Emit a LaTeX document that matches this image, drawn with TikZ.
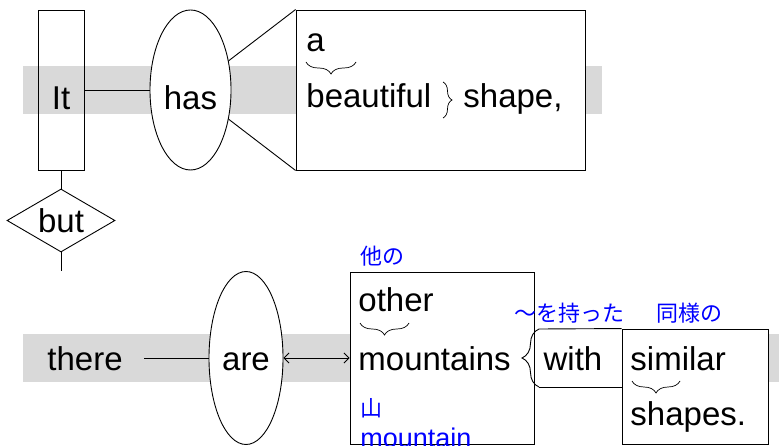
\documentclass[tikz,border=0pt]{standalone}
\usepackage{xcolor}
\usepackage{fontspec}
\setmainfont{Liberation Sans}
\newfontfamily\jpfont{Noto Sans CJK JP}
\usetikzlibrary{shapes.geometric,decorations.pathreplacing,arrows.meta}
\definecolor{bandgray}{RGB}{217,217,217}

\begin{document}
\begin{tikzpicture}[x=1pt,y=-1pt,line width=0.9pt,
    word/.style={font=\fontsize{33}{38}\selectfont,inner sep=0pt},
    wordl/.style={word,anchor=base west},
    rowone/.style={word,text height=40pt,text depth=0pt},
    rowtwo/.style={word,text height=24pt,text depth=0pt},
    gloss/.style={font=\jpfont\fontsize{22}{26}\selectfont,text=blue,inner sep=0pt,anchor=base west},
    glossl/.style={font=\fontsize{27}{30}\selectfont,text=blue,inner sep=0pt,anchor=base west},
    ubrace/.style={decorate,decoration={brace,mirror,amplitude=12pt},line width=0.7pt},
    sbrace/.style={decorate,decoration={brace,amplitude=#1},line width=0.7pt},
    barb/.tip={Straight Barb[length=5pt,width=10pt]}]
    \useasboundingbox (0,0) rectangle (779,446);
    \fill[bandgray] (23,66) rectangle (602,114);
    \fill[bandgray] (23,334) rectangle (779,382);

    \node[draw,rectangle,rowone,minimum width=46pt,minimum height=160pt] (It) at (61,90) {It};
    \node[draw,ellipse,fill=white,rowone,minimum width=81pt,minimum height=160pt] (has) at (190.5,90) {has};
    \node[draw,rectangle,fill=white,minimum width=289pt,minimum height=160pt] (shapebox) at (440.5,90) {};
    \node[wordl] (a) at (306,52) {a};
    \node[wordl] (beautiful) at (306,108) {beautiful};
    \node[wordl] (shape) at (463,108) {shape,};
    \node[draw,diamond,word,aspect=1.7,minimum width=108pt,minimum height=63pt] (but) at (61,220.5) {but};
    \coordinate (butend) at (61,271);
    \draw[-] (It) -- (has);
    \draw[-] (has) -- (shapebox.north west);
    \draw[-] (has) -- (shapebox.south west);
    \draw[-] (It) -- (but);
    \draw[-] (but) -- (butend);
    \draw[ubrace] (306,62) -- (356,62);
    \draw[sbrace=9pt] (443,82) -- (443,118);

    \node[rowtwo] (there) at (85,358) {there};
    \node[draw,ellipse,fill=white,rowtwo,minimum width=74pt,minimum height=173pt] (are) at (246,358) {are};
    \node[draw,rectangle,fill=white,minimum width=184pt,minimum height=172pt] (mtnbox) at (442,358) {};
    \node[gloss] (hokano) at (360,265) {他の};
    \node[wordl] (other) at (358,312) {other};
    \node[wordl] (mountains) at (358,370) {mountains};
    \node[gloss] (yama) at (360,416) {山};
    \node[glossl] (mountain) at (360,447) {mountain};
    \node[draw,rectangle,fill=white,minimum width=146pt,minimum height=115pt] (simbox) at (695,386.5) {};
    \fill[white] (535,329) rectangle (622,387);
    \node[rowtwo] (with) at (573,358) {with};
    \node[gloss] (wootta) at (514,322) {〜を持った};
    \node[gloss] (douyou) at (656,322) {同様の};
    \node[wordl] (similar) at (630,370) {similar};
    \node[wordl] (shapes) at (630,425) {shapes.};
    \coordinate (withtop) at (539,329);
    \coordinate (withbot) at (539,387);
    \draw[-,shorten <=21pt] (there) -- (are);
    \draw[barb-barb] (are) -- (mtnbox);
    \draw[ubrace] (360,323) -- (409,323);
    \draw[ubrace] (632,381) -- (680,381);
    \draw[-] (simbox.north west) -- (withtop);
    \draw[sbrace=17pt,line width=0.9pt] (withbot) -- (withtop);
    \draw[-] (withbot) -- (withbot -| simbox.west);
\end{tikzpicture}
\end{document}
